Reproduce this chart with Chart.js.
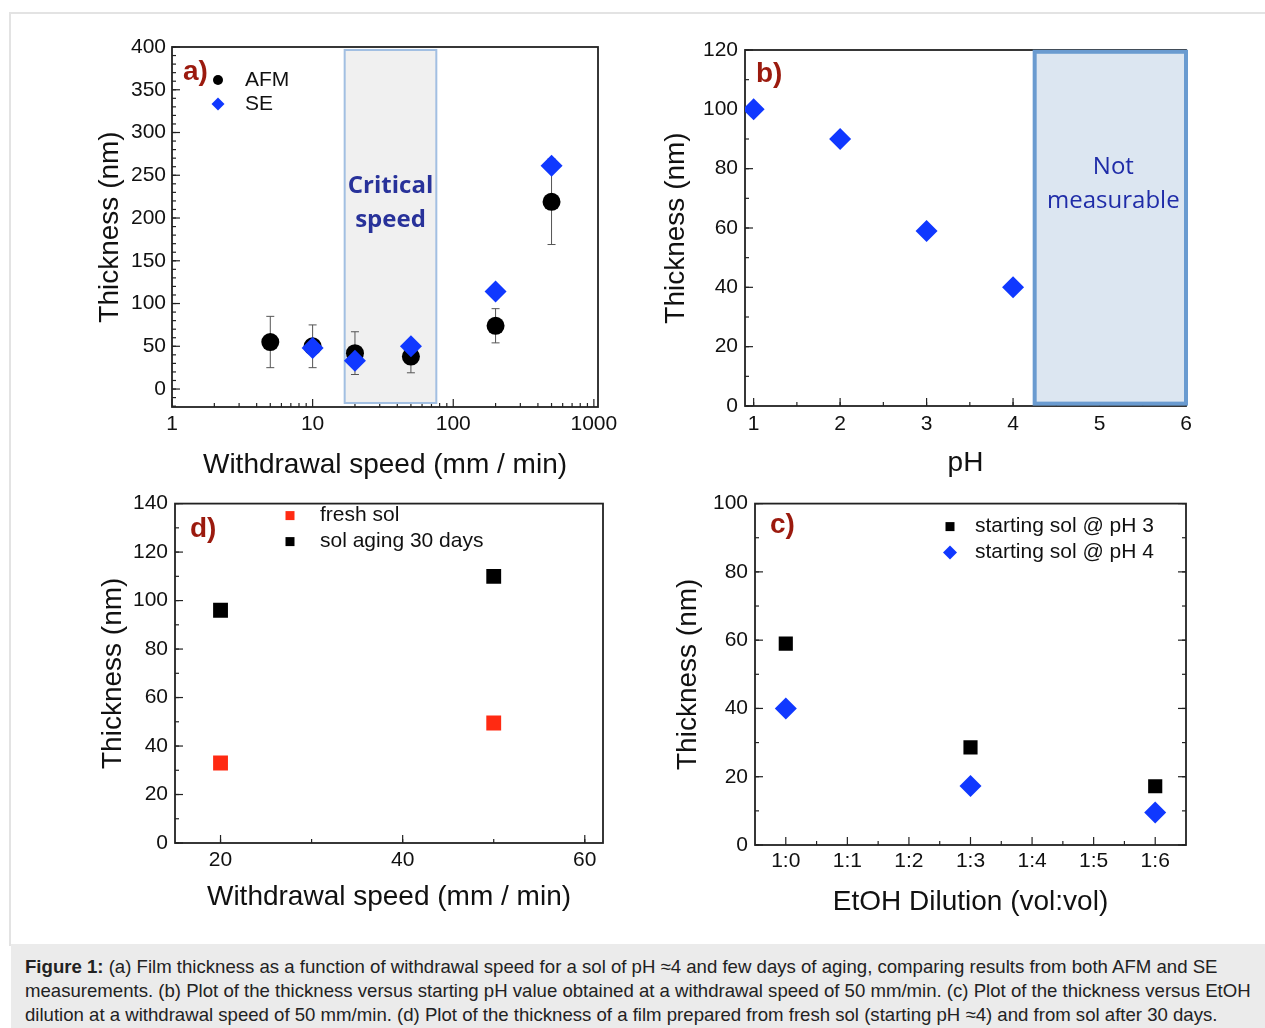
<!DOCTYPE html>
<html>
<head>
<meta charset="utf-8">
<script src="https://cdn.jsdelivr.net/npm/chart.js@4.4.0/dist/chart.umd.min.js"></script>
<style>
  html, body { margin: 0; padding: 0; background: #fff; }
  body { width: 1265px; height: 1028px; position: relative; overflow: hidden; font-family: "Liberation Sans", Arial, sans-serif; }
  .frame { position: absolute; left: 9px; top: 12px; width: 1260px; height: 932px; border-top: 2px solid #e3e3e3; border-left: 2px solid #e3e3e3; }
  canvas { position: absolute; }
  #caption { position: absolute; left: 11px; top: 944px; width: 1254px; height: 84px; background: #ebebeb;
    box-sizing: border-box; padding: 11px 0 0 14px; font-size: 18.6px; line-height: 24px; color: #222; white-space: nowrap; }
</style>
</head>
<body>
<div class="frame"></div>
<canvas id="chartA" width="625" height="470" style="left:10px;top:14px"></canvas>
<canvas id="chartB" width="625" height="470" style="left:640px;top:14px"></canvas>
<canvas id="chartD" width="625" height="460" style="left:10px;top:484px"></canvas>
<canvas id="chartC" width="625" height="460" style="left:640px;top:484px"></canvas>
<div id="caption"><b>Figure 1:</b> (a) Film thickness as a function of withdrawal speed for a sol of pH ≈4 and few days of aging, comparing results from both AFM and SE<br>measurements. (b) Plot of the thickness versus starting pH value obtained at a withdrawal speed of 50 mm/min. (c) Plot of the thickness versus EtOH<br>dilution at a withdrawal speed of 50 mm/min. (d) Plot of the thickness of a film prepared from fresh sol (starting pH ≈4) and from sol after 30 days.</div>

<script>
// a) thickness vs withdrawal speed
const speedAfm = [5, 10, 20, 50, 200, 500];
const thickAfm = [55, 50, 42, 38, 74, 219];
const errAfm = [30, 25, 25, 19, 20, 50];
const speedSe = [10, 20, 50, 200, 500];
const thickSe = [48, 33, 50, 114, 261];
const yTicksA = [0, 50, 100, 150, 200, 250, 300, 350, 400];
const xTicksA = [1, 10, 100, 1000];

// b) thickness vs pH
const phValues = [1, 2, 3, 4];
const thickPh = [100, 90, 59, 40];
const yTicksB = [0, 20, 40, 60, 80, 100, 120];
const xTicksB = [1, 2, 3, 4, 5, 6];

// c) thickness vs EtOH dilution
const dilutions = ['1:0', '1:1', '1:2', '1:3', '1:4', '1:5', '1:6'];
const thickPh3 = [59, null, null, 28.6, null, null, 17.2];
const thickPh4 = [40, null, null, 17.3, null, null, 9.5];
const yTicksC = [0, 20, 40, 60, 80, 100];

// d) fresh vs aged sol
const speedD = [20, 50];
const thickFresh = [33, 49.5];
const thickAged = [96, 110];
const yTicksD = [0, 20, 40, 60, 80, 100, 120, 140];
const xTicksD = [20, 40, 60];

const FONT = '"Liberation Sans", Arial, sans-serif';
const BLUE = '#1038ff';
const RED = '#ff2a12';

function zip(xs, ys) { return xs.map((x, i) => ({x: x, y: ys[i]})); }
function steps(a, b, s) { const out = []; for (let v = a; v <= b + 1e-9; v += s) out.push(+v.toFixed(3)); return out; }

function drawMarker(ctx, style, r, x, y, color) {
  ctx.fillStyle = color;
  ctx.beginPath();
  if (style === 'circle') ctx.arc(x, y, r, 0, Math.PI * 2);
  else if (style === 'rectRot') { ctx.moveTo(x - r, y); ctx.lineTo(x, y - r); ctx.lineTo(x + r, y); ctx.lineTo(x, y + r); ctx.closePath(); }
  else ctx.rect(x - r, y - r, 2 * r, 2 * r);
  ctx.fill();
}

// frame, inward ticks, shaded box, error bars, panel letter and legend
const panelPlugin = {
  id: 'panel',
  beforeDatasetsDraw(chart, args, o) {
    const {ctx, chartArea: ca, scales: {x, y}} = chart;
    ctx.save();
    ctx.strokeStyle = '#222';
    ctx.lineWidth = 1.8;
    ctx.strokeRect(ca.left, ca.top, ca.right - ca.left, ca.bottom - ca.top);

    ctx.lineWidth = 1.2;
    const tickLine = (side, v, len) => {
      ctx.beginPath();
      if (side === 'bottom') { const p = x.getPixelForValue(v); ctx.moveTo(p, ca.bottom); ctx.lineTo(p, ca.bottom - len); }
      else if (side === 'left') { const p = y.getPixelForValue(v); ctx.moveTo(ca.left, p); ctx.lineTo(ca.left + len, p); }
      else if (side === 'right') { const p = y.getPixelForValue(v); ctx.moveTo(ca.right, p); ctx.lineTo(ca.right - len, p); }
      ctx.stroke();
    };
    o.sides.forEach(side => {
      const sc = side === 'bottom' ? x : y;
      const minor = side === 'bottom' ? o.minorX : o.minorY;
      minor.forEach(v => { if (v >= sc.min && v <= sc.max) tickLine(side, v, 4); });
      sc.ticks.forEach(t => tickLine(side, t.value, 8));
    });

    const r = o.region;
    if (r) {
      const x0 = x.getPixelForValue(r.x0), x1 = x.getPixelForValue(r.x1);
      const y0 = y.getPixelForValue(r.y0), y1 = y.getPixelForValue(r.y1);
      ctx.fillStyle = r.fill;
      ctx.fillRect(x0, y1, x1 - x0, y0 - y1);
      ctx.strokeStyle = r.stroke;
      ctx.lineWidth = r.lw;
      ctx.strokeRect(x0, y1, x1 - x0, y0 - y1);
      ctx.fillStyle = r.color;
      ctx.font = r.font;
      ctx.textAlign = 'center';
      ctx.textBaseline = 'middle';
      r.text.forEach((t, i) => ctx.fillText(t, (x0 + x1) / 2 + (r.textDx || 0), y.getPixelForValue(r.textY[i])));
    }

    chart.data.datasets.forEach(ds => {
      if (!ds.errors) return;
      ctx.strokeStyle = '#555';
      ctx.lineWidth = 1;
      ds.data.forEach((p, j) => {
        const e = ds.errors[j];
        const px = x.getPixelForValue(p.x);
        const lo = y.getPixelForValue(p.y - e), hi = y.getPixelForValue(p.y + e);
        ctx.beginPath();
        ctx.moveTo(px, lo); ctx.lineTo(px, hi);
        ctx.moveTo(px - 4, lo); ctx.lineTo(px + 4, lo);
        ctx.moveTo(px - 4, hi); ctx.lineTo(px + 4, hi);
        ctx.stroke();
      });
    });
    ctx.restore();
  },
  afterDatasetsDraw(chart, args, o) {
    const {ctx, chartArea: ca} = chart;
    ctx.save();
    ctx.fillStyle = '#9b1a0e';
    ctx.font = 'bold 28px ' + FONT;
    ctx.textAlign = 'left';
    ctx.textBaseline = 'middle';
    ctx.fillText(o.letter, ca.left + o.letterAt[0], ca.top + o.letterAt[1]);

    const lg = o.legend;
    if (lg) {
      ctx.font = '21px ' + FONT;
      chart.data.datasets.forEach((ds, i) => {
        const yy = ca.top + lg.ys[i];
        drawMarker(ctx, ds.pointStyle, lg.sizes[i], ca.left + lg.x, yy, ds.backgroundColor);
        ctx.fillStyle = '#111';
        ctx.fillText(ds.label, ca.left + lg.textX, yy);
      });
    }
    ctx.restore();
  }
};

function axis(o) {
  const s = {
    type: o.type || 'linear',
    offset: !!o.offset,
    grid: {display: false, drawTicks: false},
    border: {display: false},
    afterFit: sc => { if (sc.isHorizontal()) sc.height = o.size; else sc.width = o.size; },
    ticks: {font: {family: FONT, size: 21}, color: '#111', padding: o.tickPad, maxRotation: 0, autoSkip: false, includeBounds: false},
    title: {display: true, text: o.title, color: '#111', font: {family: FONT, size: 28, lineHeight: 1},
      padding: o.horizontal ? {top: 0, bottom: o.titlePad} : {top: o.titlePad, bottom: 0}}
  };
  if (o.min !== undefined) { s.min = o.min; s.max = o.max; }
  if (o.ticks) {
    s.afterBuildTicks = sc => { sc.ticks = o.ticks.map(v => ({value: v})); };
    s.ticks.callback = v => String(v);
  }
  return s;
}

function baseOptions(pad, scales, panel) {
  return {
    responsive: false,
    animation: false,
    events: [],
    layout: {padding: {left: 0, top: pad.top, right: pad.right, bottom: 0}},
    scales: scales,
    plugins: {legend: {display: false}, tooltip: {enabled: false}, panel: panel}
  };
}

const logMinor = [2, 3, 4, 5, 6, 7, 8, 9].flatMap(m => [m, m * 10, m * 100]);

new Chart(document.getElementById('chartA'), {
  type: 'scatter',
  data: {datasets: [
    {label: 'AFM', data: zip(speedAfm, thickAfm), errors: errAfm, pointStyle: 'circle', pointRadius: 9,
      backgroundColor: '#000', borderColor: '#000', borderWidth: 0, order: 2},
    {label: 'SE', data: zip(speedSe, thickSe), pointStyle: 'rectRot', pointRadius: 11,
      backgroundColor: BLUE, borderColor: BLUE, borderWidth: 0, order: 1}
  ]},
  options: baseOptions({top: 33, right: 37}, {
    x: axis({type: 'logarithmic', min: 1, max: 1070, ticks: xTicksA, size: 77, tickPad: 5, title: 'Withdrawal speed (mm / min)', titlePad: 5, horizontal: true}),
    y: axis({min: -21, max: 400, ticks: yTicksA, size: 162, tickPad: 6, title: 'Thickness (nm)', titlePad: 86})
  }, {
    letter: 'a)', letterAt: [11, 25], sides: ['left', 'bottom'],
    minorX: logMinor, minorY: steps(-20, 400, 10),
    region: {x0: 16.9, x1: 75.8, y0: -16.3, y1: 396.5, fill: '#f0f0f0', stroke: '#a2bfe2', lw: 2,
      text: ['Critical', 'speed'], textY: [237, 198], font: 'bold 24px "Open Sans"', color: '#28329a'},
    legend: {x: 46, textX: 73, ys: [33, 57], sizes: [5, 6.5]}
  }),
  plugins: [panelPlugin]
});

new Chart(document.getElementById('chartB'), {
  type: 'scatter',
  data: {datasets: [
    {label: 'SE', data: zip(phValues, thickPh), pointStyle: 'rectRot', pointRadius: 11,
      backgroundColor: BLUE, borderColor: BLUE, borderWidth: 0}
  ]},
  options: baseOptions({top: 36, right: 79}, {
    x: axis({min: 0.9, max: 6, ticks: xTicksB, size: 78, tickPad: 6, title: 'pH', titlePad: 7, horizontal: true}),
    y: axis({min: 0, max: 120, ticks: yTicksB, size: 105, tickPad: 7, title: 'Thickness (nm)', titlePad: 22})
  }, {
    letter: 'b)', letterAt: [11, 24], sides: ['left', 'bottom'],
    minorX: steps(1, 6, 0.5), minorY: steps(0, 120, 10),
    region: {x0: 4.25, x1: 6, y0: 0.8, y1: 119.4, fill: '#dce6f1', stroke: '#6a9bd0', lw: 4,
      text: ['Not', 'measurable'], textY: [80.5, 69], textDx: 3, font: '24px "Open Sans"', color: '#1f2ca8'}
  }),
  plugins: [panelPlugin]
});

new Chart(document.getElementById('chartC'), {
  type: 'line',
  data: {labels: dilutions, datasets: [
    {label: 'starting sol @ pH 3', data: thickPh3, showLine: false, pointStyle: 'rect', pointRadius: 10,
      backgroundColor: '#000', borderColor: '#000', borderWidth: 0},
    {label: 'starting sol @ pH 4', data: thickPh4, showLine: false, pointStyle: 'rectRot', pointRadius: 11,
      backgroundColor: BLUE, borderColor: BLUE, borderWidth: 0}
  ]},
  options: baseOptions({top: 14, right: 79}, {
    x: axis({type: 'category', offset: true, size: 99, tickPad: 4, title: 'EtOH Dilution (vol:vol)', titlePad: 28, horizontal: true}),
    y: axis({min: 0, max: 100, ticks: yTicksC, size: 115, tickPad: 7, title: 'Thickness (nm)', titlePad: 34})
  }, {
    letter: 'c)', letterAt: [15, 22], sides: ['left', 'bottom', 'right'],
    minorX: steps(0.5, 5.5, 1), minorY: steps(0, 100, 10),
    legend: {x: 195, textX: 220, ys: [23, 49], sizes: [4.5, 7]}
  }),
  plugins: [panelPlugin]
});

new Chart(document.getElementById('chartD'), {
  type: 'scatter',
  data: {datasets: [
    {label: 'fresh sol', data: zip(speedD, thickFresh), pointStyle: 'rect', pointRadius: 10.5,
      backgroundColor: RED, borderColor: RED, borderWidth: 0},
    {label: 'sol aging 30 days', data: zip(speedD, thickAged), pointStyle: 'rect', pointRadius: 10.5,
      backgroundColor: '#000', borderColor: '#000', borderWidth: 0}
  ]},
  options: baseOptions({top: 15, right: 32}, {
    x: axis({min: 15, max: 62, ticks: xTicksD, size: 101, tickPad: 5, title: 'Withdrawal speed (mm / min)', titlePad: 33, horizontal: true}),
    y: axis({min: 0, max: 140, ticks: yTicksD, size: 165, tickPad: 7, title: 'Thickness (nm)', titlePad: 89})
  }, {
    letter: 'd)', letterAt: [15, 26], sides: ['left', 'bottom'],
    minorX: steps(20, 60, 10), minorY: steps(0, 140, 10),
    legend: {x: 115, textX: 145, ys: [12, 38], sizes: [4.5, 4.5]}
  }),
  plugins: [panelPlugin]
});
</script>
</body>
</html>
